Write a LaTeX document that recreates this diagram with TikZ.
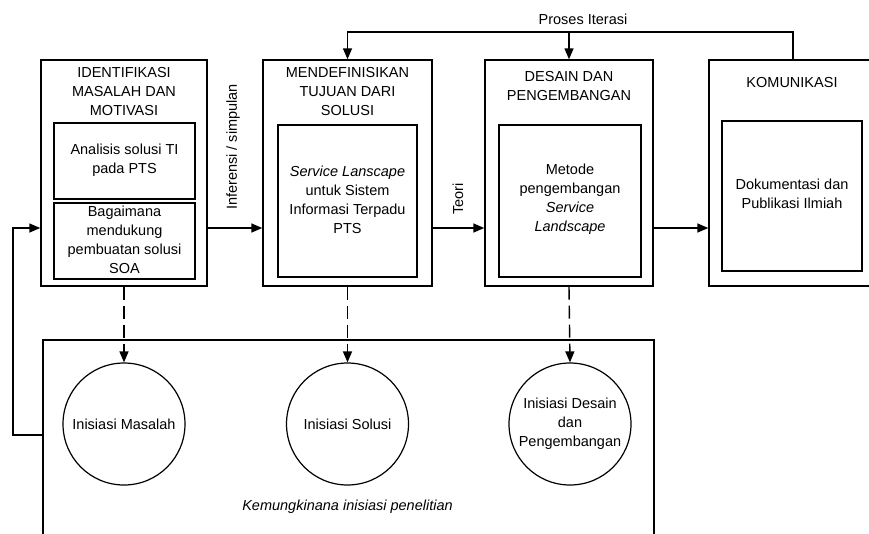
\documentclass[tikz,border=0pt]{standalone}
\usepackage{fontspec}
\setmainfont{Liberation Sans}
\usetikzlibrary{arrows.meta}
\begin{document}
\begin{tikzpicture}[x=1pt,y=-1pt,
  lw/.style={line width=1.4pt},
  obox/.style={draw,lw,inner sep=0pt},
  ibox/.style={draw,lw,inner sep=0pt},
  txt/.style={inner sep=0pt,align=center,font=\fontsize{14.5pt}{19pt}\selectfont},
  circ/.style={draw,line width=1.2pt,circle,minimum size=122pt,inner sep=0pt,align=center,font=\fontsize{14.5pt}{19pt}\selectfont},
  arr/.style={lw,-{Triangle[length=11pt,width=9pt]}},
  dasharr/.style={arr,dash pattern=on 13pt off 6pt}
]
\useasboundingbox (0,0) rectangle (869,533);
\clip (0,0) rectangle (869,533);
\fill[white] (0,0) rectangle (869,533);

% outer boxes
\node[obox,minimum width=166pt,minimum height=226pt] (b1) at (124,173) {};
\node[obox,minimum width=169pt,minimum height=226pt] (b2) at (347.5,173) {};
\node[obox,minimum width=168pt,minimum height=226pt] (b3) at (569,173) {};
\node[obox,minimum width=168pt,minimum height=226pt] (b4) at (793,173) {};

% titles
\node[txt] (t1) at (124,92) {IDENTIFIKASI\\MASALAH DAN\\MOTIVASI};
\node[txt] (t2) at (347.5,92) {MENDEFINISIKAN\\TUJUAN DARI\\SOLUSI};
\node[txt] (t3) at (569,86.5) {DESAIN DAN\\PENGEMBANGAN};
\node[txt] (t4) at (792,83) {KOMUNIKASI};

% inner boxes
\node[ibox,minimum width=141pt,minimum height=76pt] (i1a) at (124.5,161) {};
\node[ibox,minimum width=141pt,minimum height=76pt] (i1b) at (124.5,241) {};
\node[ibox,minimum width=139pt,minimum height=152pt] (i2) at (347.5,201) {};
\node[ibox,minimum width=142pt,minimum height=152pt] (i3) at (570,201) {};
\node[ibox,minimum width=140pt,minimum height=150pt] (i4) at (792,196) {};

\node[txt] (x1a) at (124.5,160) {Analisis solusi TI\\pada PTS};
\node[txt] (x1b) at (124.5,240) {Bagaimana\\mendukung\\pembuatan solusi\\SOA};
\node[txt] (x2) at (347.5,199.5) {\textit{Service Lanscape}\\untuk Sistem\\Informasi Terpadu\\PTS};
\node[txt] (x3) at (570,199.5) {Metode\\pengembangan\\\textit{Service}\\\textit{Landscape}};
\node[txt] (x4) at (792,194) {Dokumentasi dan\\Publikasi Ilmiah};

% horizontal arrows
\coordinate (midy) at (0,228);
\draw[arr] (b1.east |- midy) -- (b2.west |- midy);
\draw[arr] (b2.east |- midy) -- (b3.west |- midy);
\draw[arr] (b3.east |- midy) -- (b4.west |- midy);
\node[txt,rotate=90] (lab1) at (233,147) {Inferensi / simpulan};
\node[txt,rotate=90] (lab2) at (458,199) {Teori};

% iteration loop
\coordinate (itl) at (347.5,32);
\draw[arr] (b4.north) |- (itl) -- (b2.north);
\draw[arr] (b3.north |- itl) -- (b3.north);
\node[txt] (iter) at (583,19) {Proses Iterasi};

% bottom region
\coordinate (rBL) at (43,545);
\coordinate (rTL) at (43,340);
\coordinate (rTR) at (654,340);
\coordinate (rBR) at (654,545);
\draw[lw] (rBL) -- (rTL) -- (rTR) -- (rBR);

\node[circ] (c1) at (124,424) {Inisiasi Masalah};
\node[circ] (c2) at (347.5,424) {Inisiasi Solusi};
\node[circ] (c3) at (570,424) {Inisiasi Desain\\dan\\Pengembangan};

\draw[dasharr] (b1.south) -- (c1.north);
\draw[dasharr] (b2.south) -- (c2.north);
\draw[dasharr] (b3.south) -- (c3.north);

\node[txt] (kem) at (347.5,507) {\textit{Kemungkinana inisiasi penelitian}};

% feedback
\coordinate (fb) at (43,435);
\coordinate (fbx) at (13,435);
\draw[arr] (fb) -- (fbx) |- (b1.west |- midy);
\end{tikzpicture}
\end{document}
